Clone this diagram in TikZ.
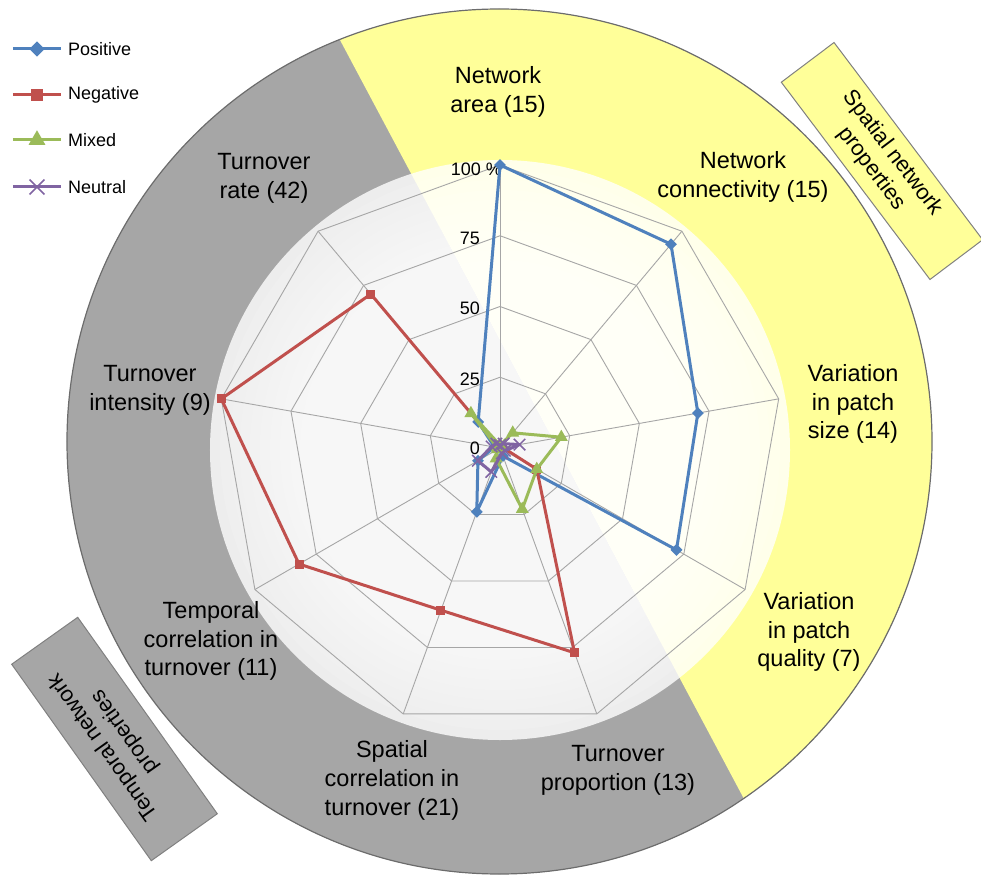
\documentclass[tikz,border=0pt]{standalone}
\usepackage{fontspec}
\setmainfont{Liberation Sans}
\usetikzlibrary{positioning,calc,shapes.geometric,shapes.misc}

\definecolor{posblue}{HTML}{4F81BD}
\definecolor{negred}{HTML}{C0504D}
\definecolor{mixgreen}{HTML}{9BBB59}
\definecolor{neupurple}{HTML}{8064A2}
\definecolor{spatyellow}{HTML}{FFFF99}
\definecolor{tempgray}{HTML}{A6A6A6}
\definecolor{gridgray}{HTML}{A6A6A6}

\tikzset{
  gridline/.style={gridgray, line width=0.9pt},
  series/.style={line width=3pt, line join=round},
  axislabel/.style={font=\fontsize{23.5}{28.8}\selectfont, align=center, inner sep=0pt},
  ticklabel/.style={font=\fontsize{18}{20}\selectfont, anchor=east, inner sep=0pt},
  legendtext/.style={font=\fontsize{18}{20}\selectfont, anchor=west, inner sep=0pt},
  groupbox/.style={draw=gray, line width=1pt, align=center, inner sep=0pt,
    font=\fontsize{22}{26}\selectfont},
  posmark/.style={diamond, fill=posblue, inner sep=0pt, minimum size=12pt},
  negmark/.style={rectangle, fill=negred, inner sep=0pt, minimum size=9pt},
  mixmark/.style={regular polygon, regular polygon sides=3, fill=mixgreen, inner sep=0pt, minimum size=15pt},
  neumark/.style={cross out, draw=neupurple, line width=1.5pt, inner sep=0pt, minimum size=10pt},
}

\begin{document}
\begin{tikzpicture}[x=1pt, y=1pt]
    \useasboundingbox (-500,-427) rectangle (481,448);
    % Background disc
    \begin{scope}
        \clip (-0.5,6.5) circle (432.5);
        \fill[tempgray] (-0.5,6.5) circle (432.5);
        \fill[spatyellow] (-260.75,597.25) -- (343.75,-538.25) -- (600,-600) -- (600,600) -- cycle;
    \end{scope}
    \draw[gray!85!black, line width=1.2pt] (-0.5,6.5) circle (432.5);
    % Plot area, white towards the middle
    \fill[white, fill opacity=0.8] (0,-2) circle (290);
    \foreach \r in {280,270,...,80}
        \fill[white, fill opacity=0.12] (0,-2) circle (\r);

    % Grid
    \foreach \r in {25,50,75,100}
        \draw[gridline] (90:{2.83*\r}) \foreach \k in {1,...,8} { -- ({90-40*\k}:{2.83*\r}) } -- cycle;
    \foreach \k in {0,...,8}
        \draw[gridline] (0,0) -- ({90-40*\k}:283);

    % Scale
    \node[ticklabel] (t0) at (-20,0) {0};
    \node[ticklabel] (t25) at (-20,69) {25};
    \node[ticklabel] (t50) at (-20,140) {50};
    \node[ticklabel] (t75) at (-20,210) {75};
    \node[ticklabel] (t100) at (2,279) {100 \%};

    % Data points
    \foreach \v [count=\k from 0] in {100,94,71,72,3,24,9,2,12}
        \coordinate (pos-\k) at ({90-40*\k}:{2.83*\v});
    \foreach \v [count=\k from 0] in {0,0,1,15,77,61,82,100,71}
        \coordinate (neg-\k) at ({90-40*\k}:{2.83*\v});
    \foreach \v [count=\k from 0] in {1,7,22,15,23,4,1,1,16}
        \coordinate (mix-\k) at ({90-40*\k}:{2.83*\v});
    \foreach \v [count=\k from 0] in {1,2,7,2,2,9,9,3,2}
        \coordinate (neu-\k) at ({90-40*\k}:{2.83*\v});

    % Series
    \draw[series, posblue] (pos-0) \foreach \k in {1,...,8} { -- (pos-\k) } -- cycle;
    \foreach \k in {0,...,8} \node[posmark] (pm-\k) at (pos-\k) {};
    \draw[series, negred] (neg-0) \foreach \k in {1,...,8} { -- (neg-\k) } -- cycle;
    \foreach \k in {0,...,8} \node[negmark] (nm-\k) at (neg-\k) {};
    \draw[series, mixgreen] (mix-0) \foreach \k in {1,...,8} { -- (mix-\k) } -- cycle;
    \foreach \k in {0,...,8} \node[mixmark] (mm-\k) at (mix-\k) {};
    \draw[series, neupurple] (neu-0) \foreach \k in {1,...,8} { -- (neu-\k) } -- cycle;
    \foreach \k in {0,...,8} \node[neumark] (um-\k) at (neu-\k) {};

    % Axis labels
    \node[axislabel] (area) at (-2,356) {Network\\area (15)};
    \node[axislabel] (conn) at (243,271) {Network\\connectivity (15)};
    \node[axislabel] (psize) at (353,44) {Variation\\in patch\\size (14)};
    \node[axislabel] (pqual) at (309,-184) {Variation\\in patch\\quality (7)};
    \node[axislabel] (tprop) at (118,-322.5) {Turnover\\proportion (13)};
    \node[axislabel] (scorr) at (-108,-332.5) {Spatial\\correlation in\\turnover (21)};
    \node[axislabel] (tcorr) at (-289,-193) {Temporal\\correlation in\\turnover (11)};
    \node[axislabel] (tint) at (-350,58) {Turnover\\intensity (9)};
    \node[axislabel] (trate) at (-236,270) {Turnover\\rate (42)};

    % Group boxes
    \node[groupbox, fill=spatyellow, rotate=-53, minimum width=247pt, minimum height=66pt]
        (spatial) at (382,287) {Spatial network\\properties};
    \node[groupbox, fill=tempgray, rotate=125.4, minimum width=241pt, minimum height=81pt]
        (temporal) at (-385.5,-291) {Temporal network\\properties};

    % Legend
    \foreach \lab/\col/\mk/\y in {Positive/posblue/posmark/399, Negative/negred/negmark/353,
                                  Mixed/mixgreen/mixmark/308, Neutral/neupurple/neumark/261} {
        \draw[series, \col] (-487,\y) -- (-439,\y);
        \node[\mk, scale=1.3] (key-\lab) at (-463,\y) {};
        \node[legendtext] (lab-\lab) at (-432,\y) {\lab};
    }
\end{tikzpicture}
\end{document}
